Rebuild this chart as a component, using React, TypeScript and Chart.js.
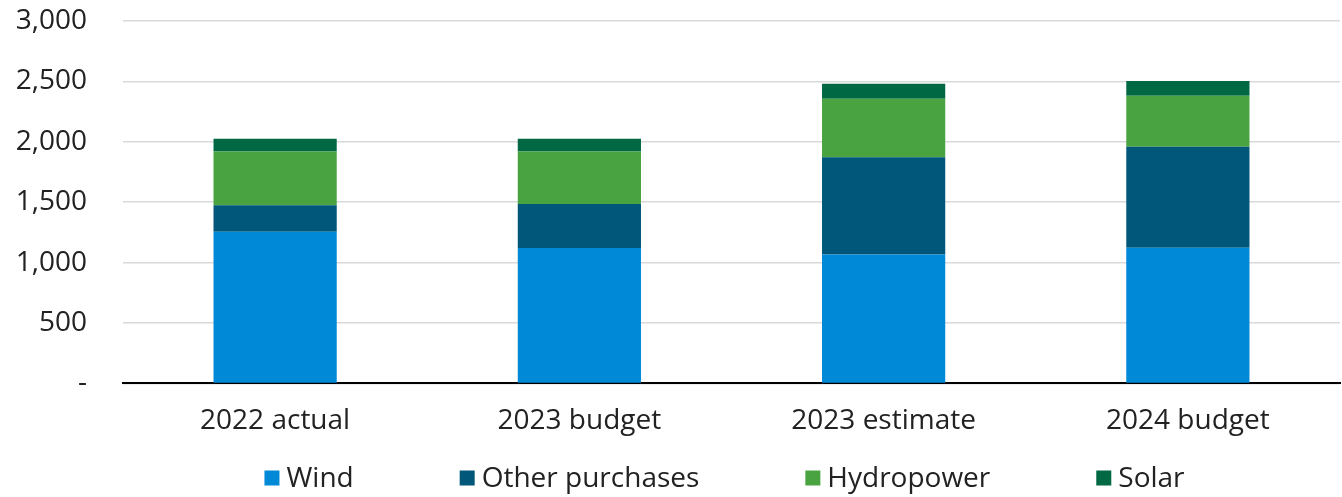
import React, { useEffect, useRef } from "react";
import { Chart, registerables } from "chart.js";

Chart.register(...registerables);

const categories = ["2022 actual", "2023 budget", "2023 estimate", "2024 budget"];
const wind = [1256, 1120, 1067, 1123];
const otherPurchases = [218, 366, 805, 836];
const hydropower = [446, 434, 485, 423];
const solar = [105, 105, 124, 121];

const seriesNames = ["Wind", "Other purchases", "Hydropower", "Solar"];
const seriesColors = ["#0089D7", "#015779", "#4AA341", "#006944"];
const yTicks = { min: 0, max: 3000, step: 500 };

const FONT_FAMILY = "'Open Sans', 'Noto Sans', sans-serif";
const FONT_SIZE = 28;
const TEXT_COLOR = "#222222";

const customLegend = {
  id: "customLegend",
  afterDraw(chart: any) {
    const ctx = chart.ctx as CanvasRenderingContext2D;
    const area = chart.chartArea;
    const box = 15;
    const gap = 7;
    const spacing = 106;
    ctx.save();
    ctx.font = `${FONT_SIZE}px ${FONT_FAMILY}`;
    ctx.textBaseline = "middle";
    ctx.textAlign = "left";
    const items = chart.data.datasets.map((ds: any) => {
      const w = ctx.measureText(ds.label).width;
      return { label: ds.label, color: ds.backgroundColor, width: box + gap + w };
    });
    const total =
      items.reduce((s: number, it: any) => s + it.width, 0) + spacing * (items.length - 1);
    let x = (area.left + area.right) / 2 - total / 2 - 7;
    const y = chart.height - 19;
    for (const it of items) {
      ctx.fillStyle = it.color;
      ctx.fillRect(x, y - box / 2, box, box);
      ctx.fillStyle = TEXT_COLOR;
      ctx.fillText(it.label, x + box + gap, y + 1);
      x += it.width + spacing;
    }
    ctx.restore();
  },
};

export default function App() {
  const canvasRef = useRef<HTMLCanvasElement | null>(null);

  useEffect(() => {
    document.body.style.margin = "0";
    const canvas = canvasRef.current;
    if (!canvas) return;
    const seriesData = [wind, otherPurchases, hydropower, solar];
    const chart = new Chart(canvas, {
      type: "bar",
      data: {
        labels: categories,
        datasets: seriesNames.map((name, i) => ({
          label: name,
          data: seriesData[i],
          backgroundColor: seriesColors[i],
          borderWidth: 0,
          categoryPercentage: 1,
          barPercentage: 0.405,
        })),
      },
      options: {
        responsive: false,
        animation: false,
        layout: { padding: { top: 21, left: 0, right: 2, bottom: 38 } },
        plugins: {
          legend: { display: false },
          tooltip: { enabled: false },
        },
        scales: {
          x: {
            stacked: true,
            grid: { display: false, drawTicks: false },
            border: { display: true, color: "#000000", width: 2 },
            ticks: {
              color: TEXT_COLOR,
              font: { family: FONT_FAMILY, size: FONT_SIZE },
              padding: 21,
              maxRotation: 0,
            },
            afterFit: (scale: any) => {
              scale.paddingLeft = 0;
              scale.paddingRight = 0;
            },
          },
          y: {
            stacked: true,
            min: yTicks.min,
            max: yTicks.max,
            grid: { color: "#d9d9d9", lineWidth: 1.5, drawTicks: false },
            border: { display: false },
            ticks: {
              stepSize: yTicks.step,
              color: TEXT_COLOR,
              font: { family: FONT_FAMILY, size: FONT_SIZE },
              padding: 36,
              callback: (v: any) => (Number(v) === 0 ? "-" : Number(v).toLocaleString("en-US")),
            },
            afterFit: (scale: any) => {
              scale.width = 123;
              scale.paddingTop = 0;
              scale.paddingBottom = 0;
            },
          },
        },
      },
      plugins: [customLegend],
    });
    return () => chart.destroy();
  }, []);

  return (
    <div style={{ position: "absolute", left: 0, top: 0, width: 1342, height: 497, background: "#fff" }}>
      <canvas ref={canvasRef} width={1342} height={497} style={{ width: 1342, height: 497 }} />
    </div>
  );
}
